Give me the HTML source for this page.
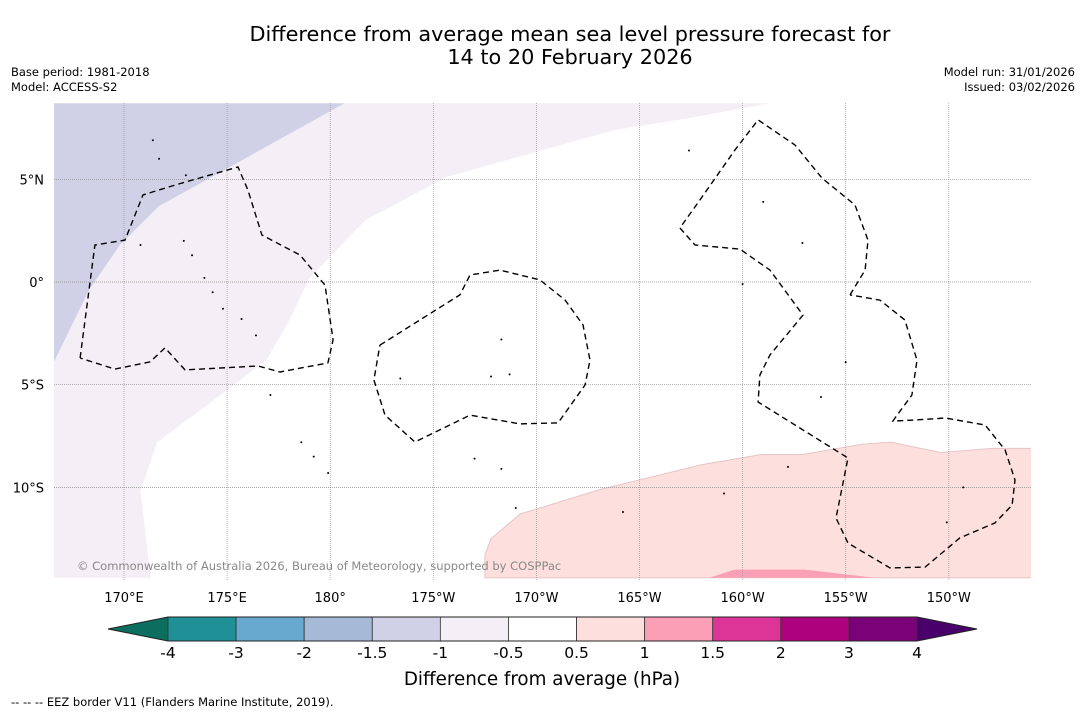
<!DOCTYPE html>
<html><head><meta charset="utf-8"><style>
html,body{margin:0;padding:0;background:#fff;}
body{width:1085px;height:713px;overflow:hidden;font-family:"DejaVu Sans","Liberation Sans",sans-serif;}
svg text{font-family:"DejaVu Sans","Liberation Sans",sans-serif;}
</style></head><body>
<svg id="chart" width="1085" height="713" xmlns="http://www.w3.org/2000/svg">
<text x="570" y="41" font-size="20.8" text-anchor="middle">Difference from average mean sea level pressure forecast for</text>
<text x="570" y="64" font-size="20.8" text-anchor="middle">14 to 20 February 2026</text>
<text x="11" y="76" font-size="11.5">Base period: 1981-2018</text>
<text x="11" y="91" font-size="11.5">Model: ACCESS-S2</text>
<text x="1075" y="76" font-size="11.5" text-anchor="end">Model run: 31/01/2026</text>
<text x="1075" y="91" font-size="11.5" text-anchor="end">Issued: 03/02/2026</text>
<defs><clipPath id="mapclip"><rect x="54" y="103" width="977" height="477"/></clipPath></defs>
<g id="map" clip-path="url(#mapclip)">
<rect x="54" y="103" width="977" height="477" fill="#fff"/>
<g id="fills"></g>
<g id="grid"></g>
<g id="islands"></g>
<g id="eez"></g>
<text x="77" y="570" font-size="11.5" fill="#888">© Commonwealth of Australia 2026, Bureau of Meteorology, supported by COSPPac</text>
</g>
<g id="ticks"></g>
<g id="colorbar"></g>
<text x="542" y="685" font-size="18.3" text-anchor="middle">Difference from average (hPa)</text>
<text x="11" y="706" font-size="11.5">--  --  -- EEZ border V11 (Flanders Marine Institute, 2019).</text>
</svg>
<script>
const lonTicks=[170,175,180,185,190,195,200,205,210];
const lonLabels=["170°E","175°E","180°","175°W","170°W","165°W","160°W","155°W","150°W"];
const latTicks=[5,0,-5,-10];
const latLabels=["5°N","0°","5°S","10°S"];
const cbBounds=["-4","-3","-2","-1.5","-1","-0.5","0.5","1","1.5","2","3","4"];
const cbColors=["#1f9096","#67a9cf","#a6b9d6","#d0d1e6","#f4eef6","#ffffff","#fde0dd","#fa9fb5","#dd3497","#ae017e","#7a0177"];
const regionBlue=[[166.6,8.7],[180.7,8.7],[177.1,6.7],[174.6,5.3],[171.7,3.7],[169.8,1.8],[168.3,-0.4],[166.6,-3.9]];
const regionLavender=[[166.6,8.7],[180.7,8.7],[201.3,8.7],[197.5,8.0],[193.8,7.4],[189.5,6.2],[185.6,5.1],[181.7,3.0],[179.0,0.2],[178.0,-1.9],[176.9,-3.8],[174.3,-5.8],[171.6,-7.8],[170.8,-10.2],[171.3,-14.4],[166.6,-14.4],[166.6,-3.9],[168.3,-0.4],[169.8,1.8],[171.7,3.7],[174.6,5.3],[177.1,6.7],[180.7,8.7]];
const regionPink=[[187.5,-13.3],[187.8,-12.5],[189.2,-11.3],[193.1,-10.1],[198,-8.9],[200.9,-8.4],[202.9,-8.4],[205.8,-7.9],[207.2,-7.8],[209.6,-8.3],[212.1,-8.1],[214.1,-8.1],[214.1,-14.4],[187.5,-14.4]];
const regionPink2=[[198.4,-14.4],[199.6,-14.0],[203,-14.0],[206.4,-14.4]];
const eezWest=[[167.87,-3.70],[168.59,1.80],[170.05,2.04],[170.92,4.24],[172.47,4.72],[175.53,5.60],[176.01,4.48],[176.69,2.29],[178.54,1.31],[179.75,-0.15],[180.14,-2.82],[179.89,-3.94],[177.57,-4.38],[176.5,-4.09],[172.96,-4.28],[171.99,-3.21],[171.26,-3.89],[169.56,-4.24],[167.87,-3.70]];
const eezPhoenix=[[182.41,-3.07],[186.29,-0.63],[186.78,0.34],[188.23,0.58],[190.17,0.10],[191.39,-0.88],[192.26,-2.09],[192.60,-3.80],[192.36,-5.01],[191.05,-6.86],[189.2,-6.91],[186.78,-6.48],[184.11,-7.79],[182.66,-6.48],[182.12,-4.77],[182.41,-3.07]];
const eezLine=[[205.21,-0.63],[205.94,0.58],[206.08,2.04],[205.45,3.75],[203.85,5.06],[202.54,6.67],[200.75,7.89],[199.63,6.43],[197.93,3.99],[196.96,2.63],[197.69,1.80],[199.87,1.60],[201.33,0.58],[202.93,-1.61],[201.33,-3.55],[200.84,-4.53],[200.75,-5.84],[205.11,-8.57],[204.53,-11.49],[205.11,-12.71],[207.15,-13.92],[208.85,-13.88],[210.54,-12.46],[212.24,-11.73],[213.07,-10.86],[213.21,-9.64],[212.73,-8.18],[211.76,-6.96],[209.82,-6.62],[208.36,-6.72],[207.29,-6.77],[207.39,-6.62],[208.21,-5.50],[208.46,-3.80],[207.87,-1.85],[206.66,-0.88],[205.21,-0.63]];
const islands=[[171.4,6.9],[171.7,6.0],[173.0,5.2],[170.8,1.8],[172.9,2.0],[173.3,1.3],[173.9,0.2],[174.3,-0.5],[174.8,-1.3],[175.7,-1.8],[176.4,-2.6],[177.1,-5.5],[178.6,-7.8],[179.2,-8.5],[179.9,-9.3],[183.4,-4.7],[188.3,-2.8],[187.8,-4.6],[188.7,-4.5],[197.4,6.4],[201.0,3.9],[202.9,1.9],[200.0,-0.1],[203.8,-5.6],[205.0,-3.9],[202.2,-9.0],[199.1,-10.3],[194.2,-11.2],[209.9,-11.7],[210.7,-10.0],[187.0,-8.6],[188.3,-9.1],[189.0,-11.0]];
const x0=124,dxPer5=103.1,y0=282,dyPer5=102.7;
const X=lon=>x0+(lon-170)*dxPer5/5;
const Y=lat=>y0-lat*dyPer5/5;
const NS='http://www.w3.org/2000/svg';
function mk(tag,attrs,parent){const e=document.createElementNS(NS,tag);for(const k in attrs)e.setAttribute(k,attrs[k]);parent.appendChild(e);return e;}
const pts=a=>a.map(p=>X(p[0]).toFixed(1)+','+Y(p[1]).toFixed(1)).join(' ');
const fills=document.getElementById('fills');
let e;
e=mk('polygon',{points:pts(regionLavender),fill:'#f4eef6'},fills);


e=mk('polygon',{points:pts(regionBlue),fill:'#d0d1e6'},fills);


e=mk('polygon',{points:pts(regionPink),fill:'#fde0dd',stroke:'#e8c4c8','stroke-width':1},fills);


e=mk('polygon',{points:pts(regionPink2),fill:'#fa9fb5'},fills);


const grid=document.getElementById('grid'),ticks=document.getElementById('ticks');
lonTicks.forEach((l,i)=>{
 e=mk('line',{x1:X(l),x2:X(l),y1:103,y2:580,stroke:'#999','stroke-width':0.7,'stroke-dasharray':'1,1'},grid);
 
 
 e=mk('text',{x:X(l),y:602,'font-size':13,'text-anchor':'middle'},ticks);e.textContent=lonLabels[i];
 
 
});
latTicks.forEach((l,i)=>{
 e=mk('line',{x1:54,x2:1031,y1:Y(l),y2:Y(l),stroke:'#888','stroke-width':0.7,'stroke-dasharray':'1,1'},grid);
 
 
 e=mk('text',{x:44,y:Y(l)+5,'font-size':13,'text-anchor':'end'},ticks);e.textContent=latLabels[i];
 
 
});
const isl=document.getElementById('islands');
islands.forEach(p=>{
 e=mk('circle',{cx:X(p[0]),cy:Y(p[1]),r:1,fill:'#000'},isl);
 
 
});
const eez=document.getElementById('eez');
[['eez-border-west',eezWest],['eez-border-phoenix',eezPhoenix],['eez-border-line-islands',eezLine]].forEach(([n,a])=>{
 e=mk('polyline',{points:pts(a),fill:'none',stroke:'#000','stroke-width':1.4,'stroke-dasharray':'6,4'},eez);
 
 
});
const cb=document.getElementById('colorbar');
const cbL=168,cbR=917,cbT=617,cbB=641,n=cbColors.length,w=(cbR-cbL)/n;
e=mk('polygon',{points:`108,${(cbT+cbB)/2} ${cbL},${cbT} ${cbL},${cbB}`,fill:'#0b6e5e'},cb);


e=mk('polygon',{points:`977,${(cbT+cbB)/2} ${cbR},${cbT} ${cbR},${cbB}`,fill:'#49006a'},cb);


cbColors.forEach((c,i)=>{
 e=mk('rect',{x:cbL+i*w,y:cbT,width:w,height:cbB-cbT,fill:c,stroke:'#333','stroke-width':0.8},cb);
 
 
});
e=mk('polygon',{points:`108,${(cbT+cbB)/2} ${cbL},${cbT} ${cbR},${cbT} 977,${(cbT+cbB)/2} ${cbR},${cbB} ${cbL},${cbB}`,fill:'none',stroke:'#222','stroke-width':1},cb);


cbBounds.forEach((b,i)=>{
 e=mk('text',{x:cbL+i*w,y:658,'font-size':15.5,'text-anchor':'middle'},cb);e.textContent=b;
 
 
});
</script>
</body></html>
